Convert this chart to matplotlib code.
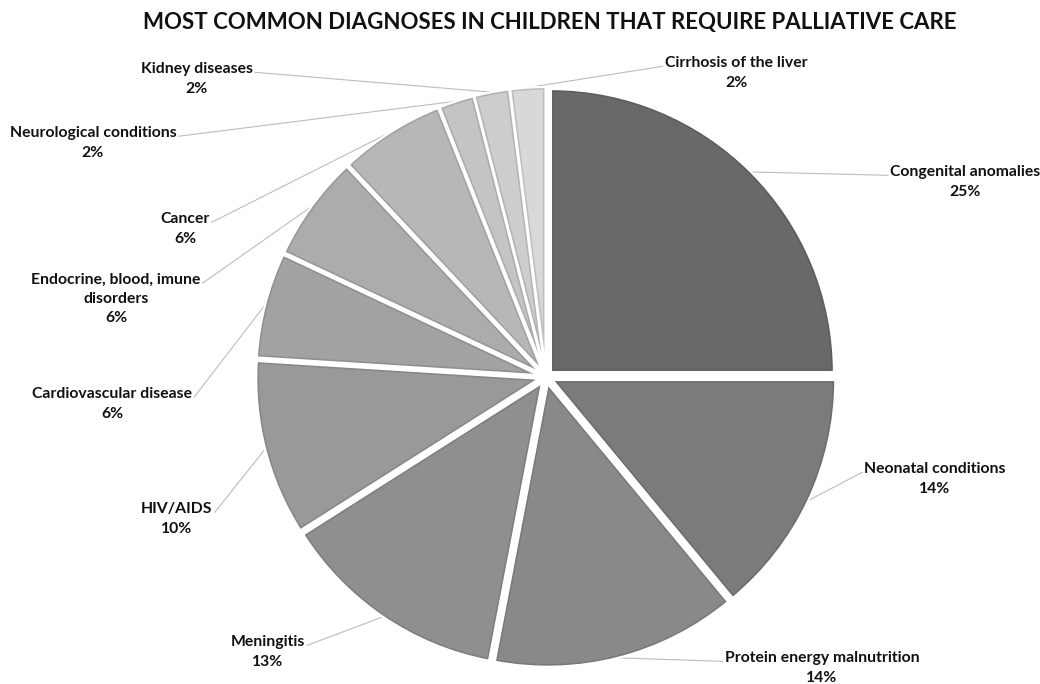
import numpy as np
import matplotlib
matplotlib.use("Agg")
import matplotlib.pyplot as plt
from matplotlib.patches import Polygon

plt.rcParams['font.family'] = ['Lato', 'DejaVu Sans']

W, H = 1040, 684

# data, clockwise from the top
labels = ["Congenital anomalies", "Neonatal conditions", "Protein energy malnutrition",
          "Meningitis", "HIV/AIDS", "Cardiovascular disease",
          "Endocrine, blood, imune\ndisorders", "Cancer", "Neurological conditions",
          "Kidney diseases", "Cirrhosis of the liver"]
shares = [25, 14, 14, 13, 10, 6, 6, 6, 2, 2, 2]

colors = ["#696969", "#7b7b7b", "#898989", "#8f8f8f", "#999999", "#a2a2a2",
          "#acacac", "#b7b7b7", "#c4c4c4", "#cdcdcd", "#d8d8d8"]

# label block centres in pixels (x, y from top)
label_pos = [(965, 182), (935, 479), (822, 668), (268, 652), (177, 519), (112, 404),
             (116, 299), (185, 229), (93, 143), (197, 79), (736, 73)]

cx, cy, R = 546, 377, 283
expl = 7      # px, pie explode is in data units
border = 2.7  # px, darker rim inside each slice

def Y(y):
    return H - y

def darker(c, f=0.88):
    r, g, b = matplotlib.colors.to_rgb(c)
    return (r*f, g*f, b*f)

def inset(w, d):
    # wedge shape shrunk inward by d px
    t1, t2 = np.deg2rad(w.theta1), np.deg2rad(w.theta2)
    wx, wy = w.center
    a = (t2 - t1) / 2
    mid = (t1 + t2) / 2
    rho = w.r - d
    k = d / np.sin(a)
    da = np.arcsin(d / rho)
    th = np.linspace(t1 + da, t2 - da, 120)
    pts = [(wx + k*np.cos(mid), wy + k*np.sin(mid))]
    pts += list(zip(wx + rho*np.cos(th), wy + rho*np.sin(th)))
    return pts

fig = plt.figure(figsize=(W/100, H/100), dpi=100)
ax = fig.add_axes([0, 0, 1, 1])

# rim colour as the wedge fill, white stroke makes the gaps
wedges, _ = ax.pie(shares, colors=[darker(c) for c in colors], startangle=90,
                   counterclock=False, center=(cx, Y(cy)), radius=R,
                   explode=[expl]*len(shares),
                   wedgeprops=dict(linewidth=1.6, edgecolor="white"))
for w, c in zip(wedges, colors):
    ax.add_patch(Polygon(inset(w, border), closed=True, facecolor=c,
                         edgecolor="none", zorder=2))

ax.set_xlim(0, W)
ax.set_ylim(0, H)
ax.set_aspect("equal")
ax.axis("off")

fig.text(550/W, Y(23)/H, "MOST COMMON DIAGNOSES IN CHILDREN THAT REQUIRE PALLIATIVE CARE",
         ha="center", va="center", fontsize=16, fontweight="bold", color="#111111")

texts = []
for lab, s, (lx, ly) in zip(labels, shares, label_pos):
    t = ax.text(lx, Y(ly), f"{lab}\n{s}%", ha="center", va="center",
                fontsize=11.3, fontweight="bold", color="#111111", linespacing=1.5)
    texts.append(t)

# leader lines from the slice edge to the first line of each label
fig.canvas.draw()
inv = ax.transData.inverted()
for w, t, (lx, ly) in zip(wedges, texts, label_pos):
    mid = np.deg2rad((w.theta1 + w.theta2) / 2)
    wx, wy = w.center
    ax0 = wx + w.r * np.cos(mid)
    ay0 = wy + w.r * np.sin(mid)
    bb = t.get_window_extent()
    nl = t.get_text().count("\n") + 1
    lh = bb.height / nl
    ex = bb.x0 - 2 if lx > cx else bb.x1 + 2
    ey = bb.y1 - lh * 0.6
    ex, ey = inv.transform((ex, ey))
    ax.plot([ax0, ex], [ay0, ey], color="#bdbdbd", linewidth=0.8, zorder=0.5)

fig.savefig("out.png", dpi=100, facecolor="white")
